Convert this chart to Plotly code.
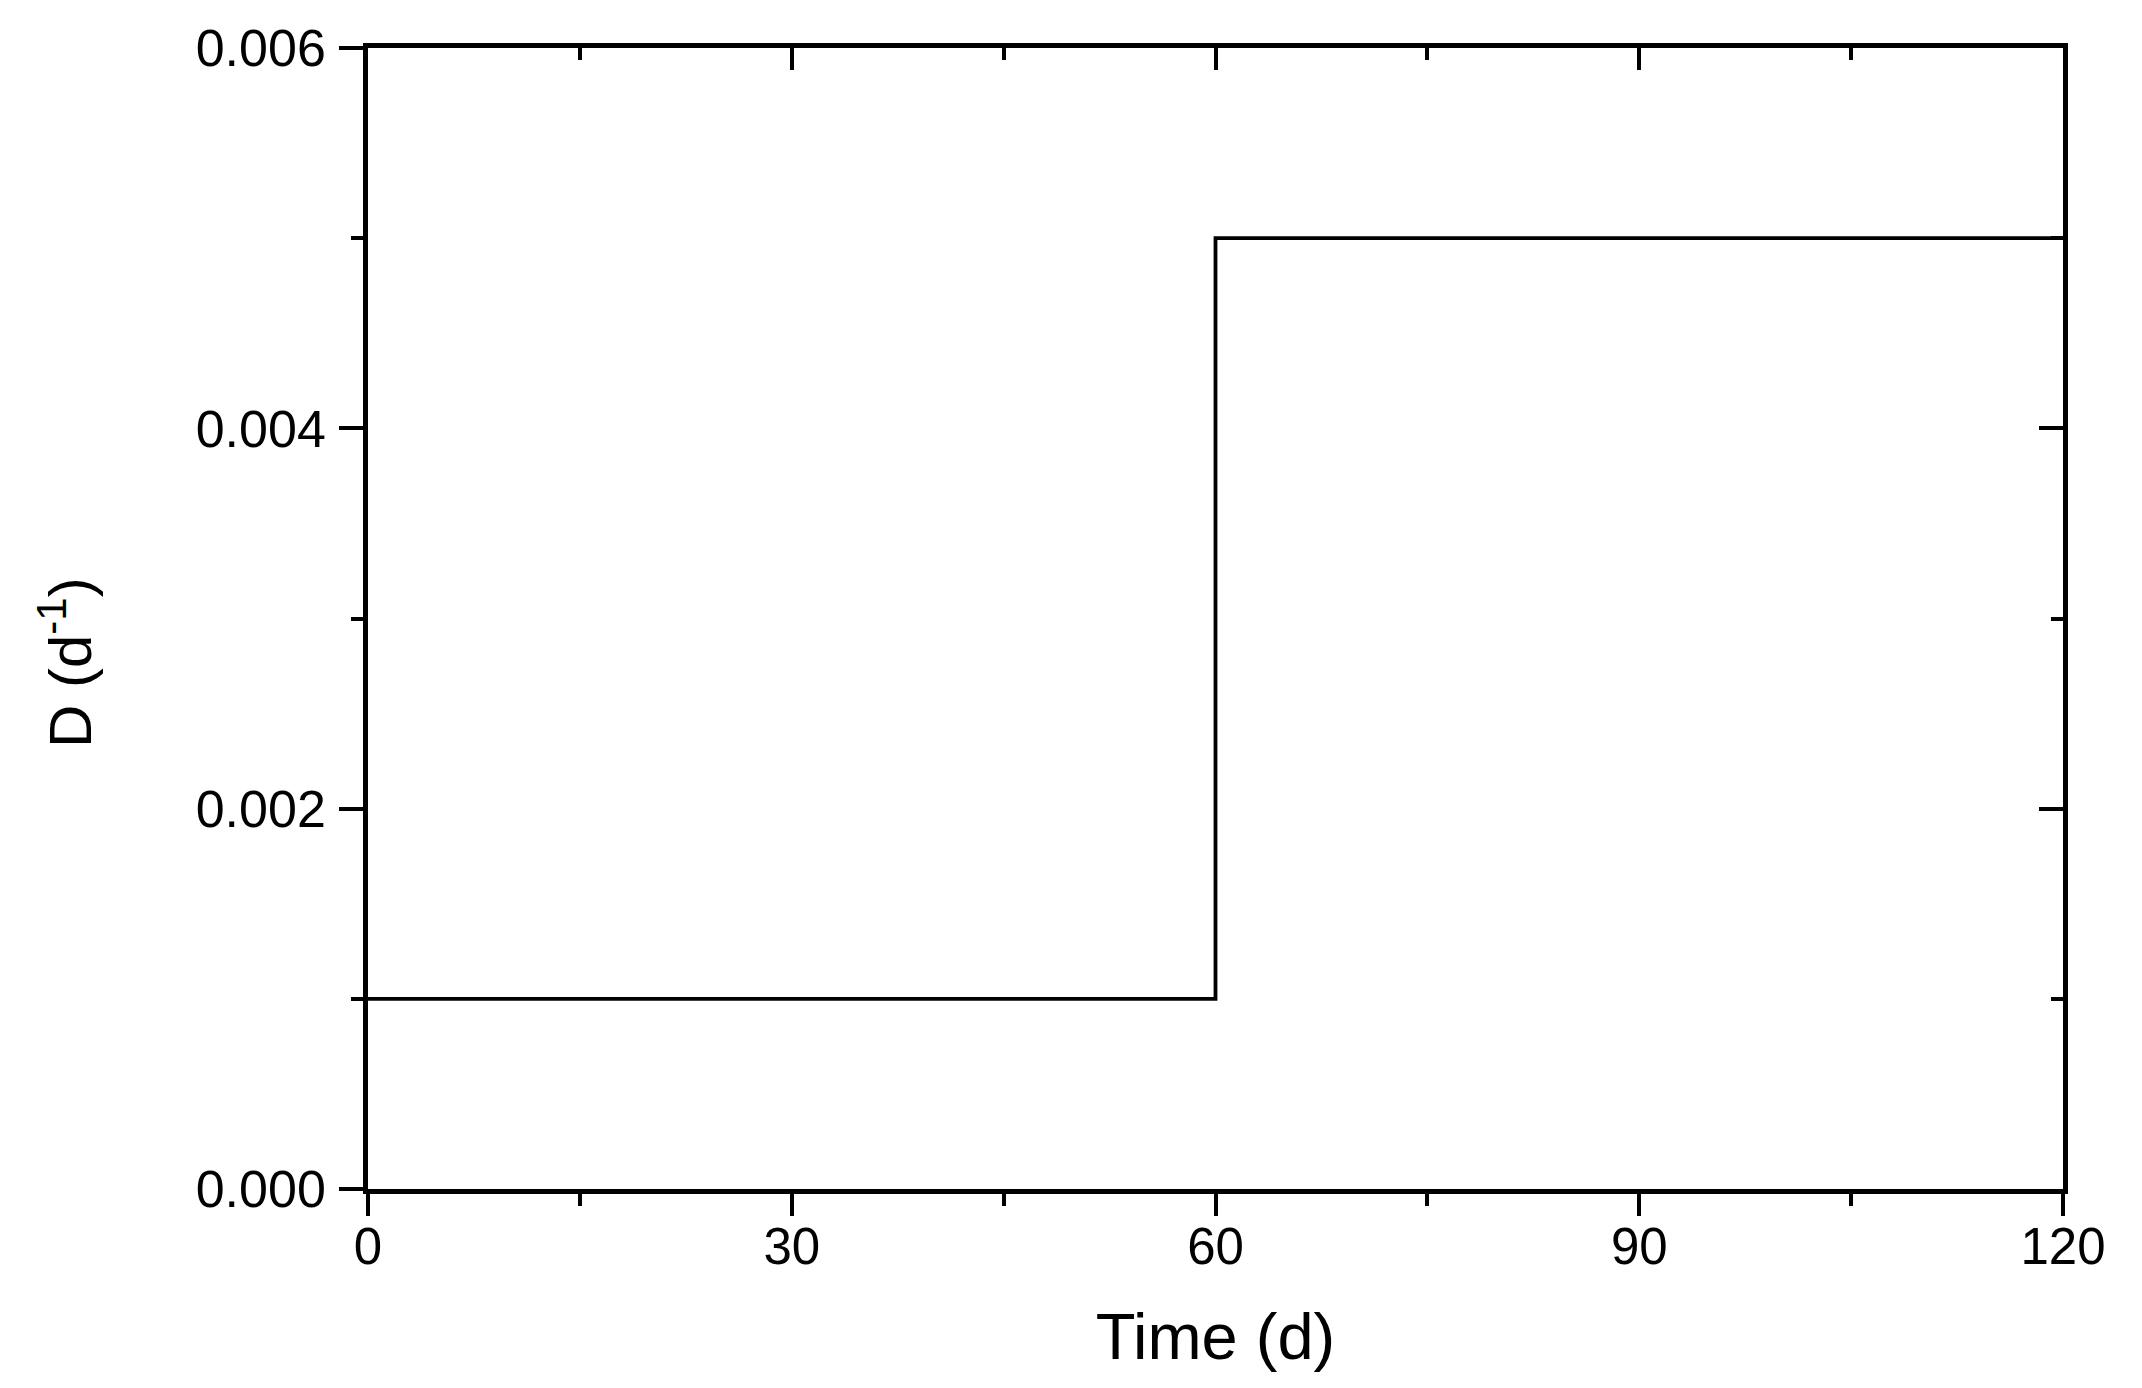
import plotly.graph_objects as go

# Data
time_d = [0, 60, 120]
D_values = [0.001, 0.005, 0.005]

x_ticks = [0, 30, 60, 90, 120]
x_tick_labels = ["0", "30", "60", "90", "120"]
y_ticks = [0.000, 0.002, 0.004, 0.006]
y_tick_labels = ["0.000", "0.002", "0.004", "0.006"]

FONT = "Liberation Sans, Arial, sans-serif"
# page body has an 8px default margin; figure is sized to fit inside
W, H = 2126, 1372
PW, PH = 1695, 1141          # plot area size
L, T = 360, 40
R, B = W - L - PW, H - T - PH

fig = go.Figure()
fig.add_trace(go.Scatter(
    x=time_d, y=D_values, mode="lines", line_shape="hv",
    line=dict(color="black", width=3.8), showlegend=False, hoverinfo="skip",
))
# invisible companion trace to anchor the mirrored (top/right) axes
fig.add_trace(go.Scatter(
    x=time_d, y=D_values, mode="lines", xaxis="x2", yaxis="y2",
    line=dict(color="rgba(0,0,0,0)", width=0), showlegend=False, hoverinfo="skip",
))

common = dict(showgrid=False, zeroline=False, showline=True, linecolor="black",
              linewidth=4.5, tickcolor="black", tickwidth=4)

fig.update_layout(
    width=W, height=H,
    margin=dict(l=L, r=R, t=T, b=B, pad=0),
    paper_bgcolor="white", plot_bgcolor="white",
    font=dict(family=FONT, color="black"),
    xaxis=dict(range=[0, 120], tickvals=x_ticks, ticktext=x_tick_labels,
               ticks="outside", ticklen=22, ticklabelstandoff=-13,
               tickfont=dict(size=51, family=FONT, color="black"),
               minor=dict(ticks="outside", ticklen=12, tickwidth=4,
                          tickcolor="black", dtick=15, showgrid=False),
               title=dict(text="Time (d)", font=dict(size=65, family=FONT, color="black"),
                          standoff=41),
               **common),
    yaxis=dict(range=[0, 0.006], tickvals=y_ticks, ticktext=y_tick_labels,
               ticks="outside", ticklen=24, ticklabelstandoff=3,
               tickfont=dict(size=52, family=FONT, color="black"),
               minor=dict(ticks="outside", ticklen=12, tickwidth=4,
                          tickcolor="black", dtick=0.001, showgrid=False),
               **common),
    xaxis2=dict(range=[0, 120], overlaying="x", side="top", tickvals=x_ticks,
                showticklabels=False, ticks="inside", ticklen=22,
                minor=dict(ticks="inside", ticklen=12, tickwidth=4,
                           tickcolor="black", dtick=15, showgrid=False),
                **common),
    yaxis2=dict(range=[0, 0.006], overlaying="y", side="right", tickvals=y_ticks,
                showticklabels=False, ticks="inside", ticklen=24,
                minor=dict(ticks="inside", ticklen=12, tickwidth=4,
                           tickcolor="black", dtick=0.001, showgrid=False),
                **common),
    annotations=[dict(
        text="D (d<sup>-1</sup>)", textangle=-90, showarrow=False,
        xref="paper", yref="paper",
        x=(66 - 8 - L) / PW, y=(T + PH - (663 - 8)) / PH,
        xanchor="center", yanchor="middle",
        font=dict(size=60, family=FONT, color="black"),
    )],
)

fig.write_html("out.html")
